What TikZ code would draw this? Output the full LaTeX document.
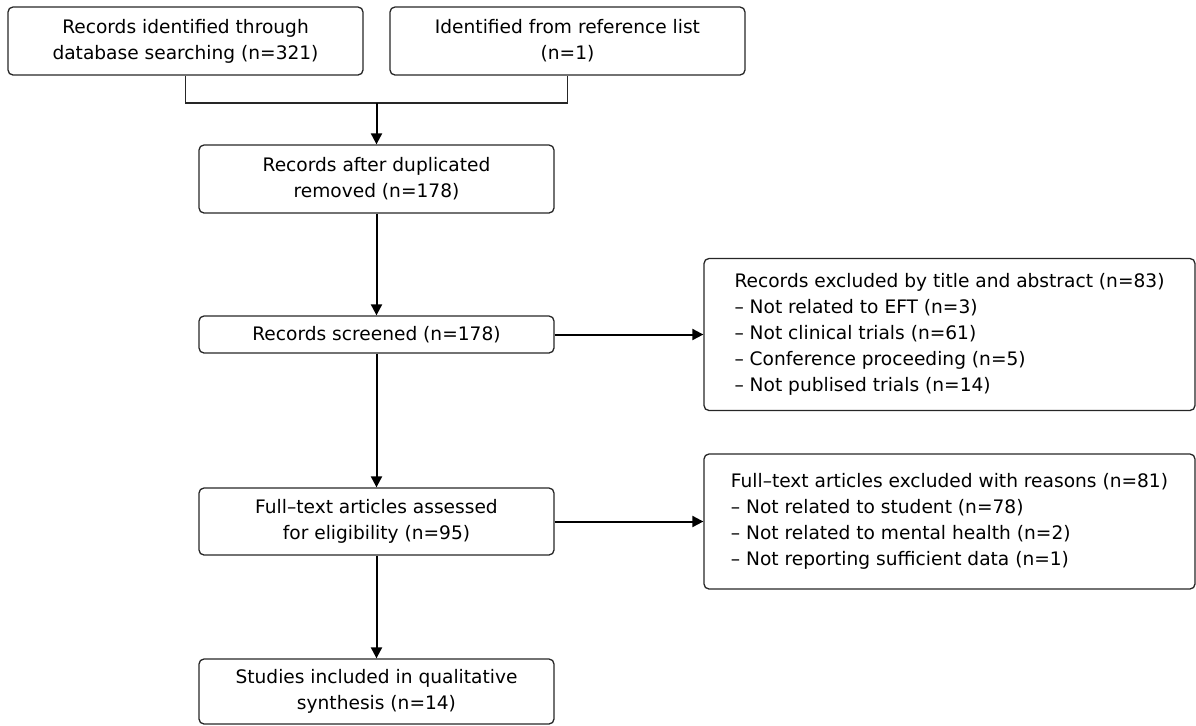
\documentclass[tikz,border=0pt]{standalone}
\usepackage{fontspec}
\setmainfont{DejaVu Sans}
\usetikzlibrary{arrows.meta}
\begin{document}
\begin{tikzpicture}[
        x=0.5pt, y=-0.5pt,
        box/.style={rectangle, rounded corners=2.5pt, draw=black!85, line width=0.65pt, minimum width=177.5pt, align=center, font=\fontsize{9.3}{13}\selectfont},
        side/.style={box, minimum width=245.5pt, align=left},
        arr/.style={-{Triangle[length=5.5pt,width=5.5pt]}, line width=1pt}
    ]
    \useasboundingbox (0,0) rectangle (1196,725);
    \node[box, minimum height=34pt] (ident) at (185.5,41) {Records identified through\\database searching (n=321)};
    \node[box, minimum height=34pt] (reflist) at (567.5,41) {Identified from reference list\\(n=1)};
    \node[box, minimum height=34pt] (dup) at (376.5,179) {Records after duplicated\\removed (n=178)};
    \node[box, minimum height=18.5pt] (screen) at (376.5,334.5) {Records screened (n=178)};
    \node[side, minimum height=76pt] (excl) at (949.5,334.5) {
        Records excluded by title and abstract (n=83)\\
        – Not related to EFT (n=3)\\
        – Not clinical trials (n=61)\\
        – Conference proceeding (n=5)\\
        – Not publised trials (n=14)
    };
    \node[box, minimum height=33.5pt] (full) at (376.5,521.5) {Full–text articles assessed\\for eligibility (n=95)};
    \node[side, minimum height=67.5pt] (fullexcl) at (949.5,521.5) {
        Full–text articles excluded with reasons (n=81)\\
        – Not related to student (n=78)\\
        – Not related to mental health (n=2)\\
        – Not reporting sufficient data (n=1)
    };
    \node[box, minimum height=32.5pt] (incl) at (376.5,691.5) {Studies included in qualitative\\synthesis (n=14)};

    \coordinate (join) at (376.5,103);
    \draw[line width=0.65pt, black!85] (ident.south) |- (join) -| (reflist.south);
    \draw[arr] (join) -- (dup.north);
    \draw[arr] (dup) -- (screen);
    \draw[arr] (screen) -- (excl);
    \draw[arr] (screen) -- (full);
    \draw[arr] (full) -- (fullexcl);
    \draw[arr] (full) -- (incl);
\end{tikzpicture}
\end{document}
